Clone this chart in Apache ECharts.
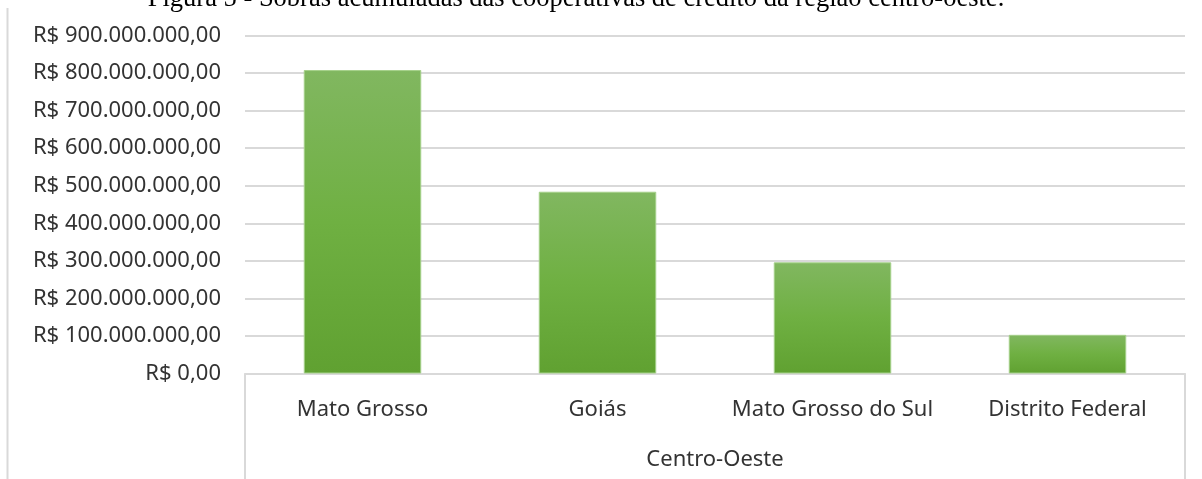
<!DOCTYPE html>
<html>
<head>
<meta charset="utf-8">
<script src="https://cdn.jsdelivr.net/npm/echarts@6/dist/echarts.min.js"></script>
<style>
  html, body { margin: 0; padding: 0; background: #ffffff; }
  #chart { width: 1202px; height: 479px; }
</style>
</head>
<body>
<div id="chart"></div>
<script>
// Sobras acumuladas por estado (R$)
const regionName = 'Centro-Oeste';
const states = ['Mato Grosso', 'Goiás', 'Mato Grosso do Sul', 'Distrito Federal'];
const surplus = [808000000, 484000000, 296000000, 103000000];
const yMin = 0;
const yMax = 900000000;
const yStep = 100000000;
const caption = 'Figura 5 - Sobras acumuladas das cooperativas de crédito da região centro-oeste.';

function formatBRL(v) {
  const intPart = Math.round(v).toString().replace(/\B(?=(\d{3})+(?!\d))/g, '.');
  return 'R$ ' + intPart + ',00';
}

const labelFont = '"Noto Sans", "Liberation Sans", sans-serif';
const labelColor = '#333333';
const gridColor = '#d9d9d9';

const chart = echarts.init(document.getElementById('chart'), null, { renderer: 'canvas' });
chart.setOption({
  backgroundColor: '#ffffff',
  animation: false,
  title: {
    text: caption,
    left: 571,
    top: -19,
    textAlign: 'center',
    textStyle: {
      fontFamily: '"Liberation Serif", "Times New Roman", serif',
      fontSize: 26.5,
      fontWeight: 'normal',
      color: '#000000'
    }
  },
  graphic: [{
    type: 'line',
    shape: { x1: 7.5, y1: 8, x2: 7.5, y2: 479 },
    style: { stroke: '#d9d9d9', lineWidth: 2 },
    silent: true
  }],
  grid: { left: 245, right: 17, top: 35.5, bottom: 105.5, containLabel: false },
  xAxis: [{
    type: 'category',
    data: states,
    position: 'bottom',
    axisLine: { show: true, lineStyle: { color: gridColor, width: 2 } },
    axisTick: { show: false },
    axisLabel: {
      interval: 0,
      margin: 25,
      color: labelColor,
      fontFamily: labelFont,
      fontSize: 22
    }
  }, {
    type: 'category',
    data: [regionName],
    position: 'bottom',
    axisLine: { show: false },
    axisTick: { show: true, length: 106, lineStyle: { color: gridColor, width: 2 } },
    axisLabel: {
      interval: 0,
      margin: 75,
      color: labelColor,
      fontFamily: labelFont,
      fontSize: 22
    }
  }],
  yAxis: {
    type: 'value',
    min: yMin,
    max: yMax,
    interval: yStep,
    axisLine: { show: false },
    axisTick: { show: false },
    splitLine: { lineStyle: { color: gridColor, width: 2 } },
    axisLabel: {
      margin: 24,
      color: labelColor,
      fontFamily: labelFont,
      fontSize: 22,
      formatter: formatBRL
    }
  },
  series: [{
    type: 'bar',
    data: surplus,
    xAxisIndex: 0,
    barWidth: '50%',
    itemStyle: {
      color: new echarts.graphic.LinearGradient(0, 0, 0, 1, [
        { offset: 0, color: '#81b760' },
        { offset: 0.5, color: '#6fb042' },
        { offset: 1, color: '#60a131' }
      ]),
      borderColor: '#a5d08a',
      borderWidth: 1
    }
  }]
});
</script>
</body>
</html>
